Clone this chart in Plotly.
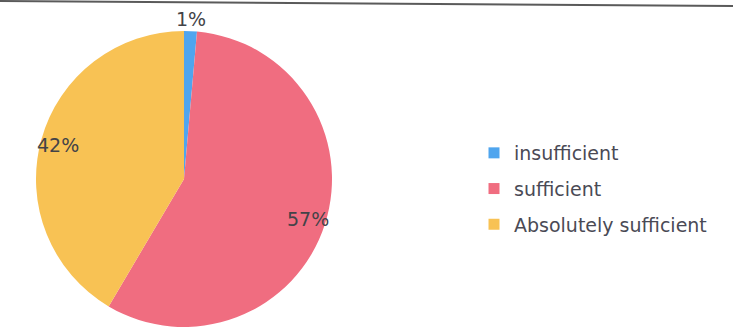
import math
import plotly.graph_objects as go

categories = ["insufficient", "sufficient", "Absolutely sufficient"]
values = [1.4, 57.1, 41.5]
colors = ["#4fa5ee", "#f06d80", "#f8c254"]

W, H = 733, 329
cx, cy, r = 184, 179, 148  # pie centre / radius in pixels

fig = go.Figure()
fig.add_trace(go.Pie(
    labels=categories, values=values, sort=False, direction="clockwise",
    rotation=0, marker=dict(colors=colors, line=dict(width=0)),
    textinfo="none", hoverinfo="label+percent", showlegend=False,
    domain=dict(x=[(cx - r) / W, (cx + r) / W],
                y=[(H - cy - r) / H, (H - cy + r) / H]),
))

# legend entries (dummy traces so spacing can match)
for cat, col in zip(categories, colors):
    fig.add_trace(go.Scatter(x=[None], y=[None], mode="markers", name=cat,
                             legendgroup=cat,
                             marker=dict(symbol="square", size=11, color=col)))

# percentage labels placed at slice mid-angles
total = sum(values)
cum = 0
for v in values:
    mid = (cum + v / 2) / total * 2 * math.pi
    cum += v
    f = 1.08 if v / total < 0.05 else 0.88
    px = cx + f * r * math.sin(mid)
    py = cy - f * r * math.cos(mid)
    fig.add_annotation(x=px / W, y=1 - py / H, xref="paper", yref="paper",
                       xanchor="center", yanchor="middle",
                       text=f"{v:.0f}%", showarrow=False,
                       font=dict(family="DejaVu Sans", size=19, color="#434348"))

fig.add_shape(type="line", xref="paper", yref="paper", x0=0, y0=1 - 1 / H,
              x1=1, y1=1 - 6 / H, line=dict(color="#5a5a5a", width=2))

fig.update_layout(
    width=W, height=H, margin=dict(l=0, r=0, t=0, b=0),
    paper_bgcolor="white", plot_bgcolor="white",
    xaxis=dict(visible=False), yaxis=dict(visible=False),
    legend=dict(x=474 / W, y=1 - 134 / H, xanchor="left", yanchor="top",
                tracegroupgap=8, bgcolor="rgba(0,0,0,0)",
                font=dict(family="DejaVu Sans", size=19, color="#4a4a55")),
)

fig.write_html("out.html", config={"displayModeBar": False},
               post_script="document.body.style.margin='0';")
